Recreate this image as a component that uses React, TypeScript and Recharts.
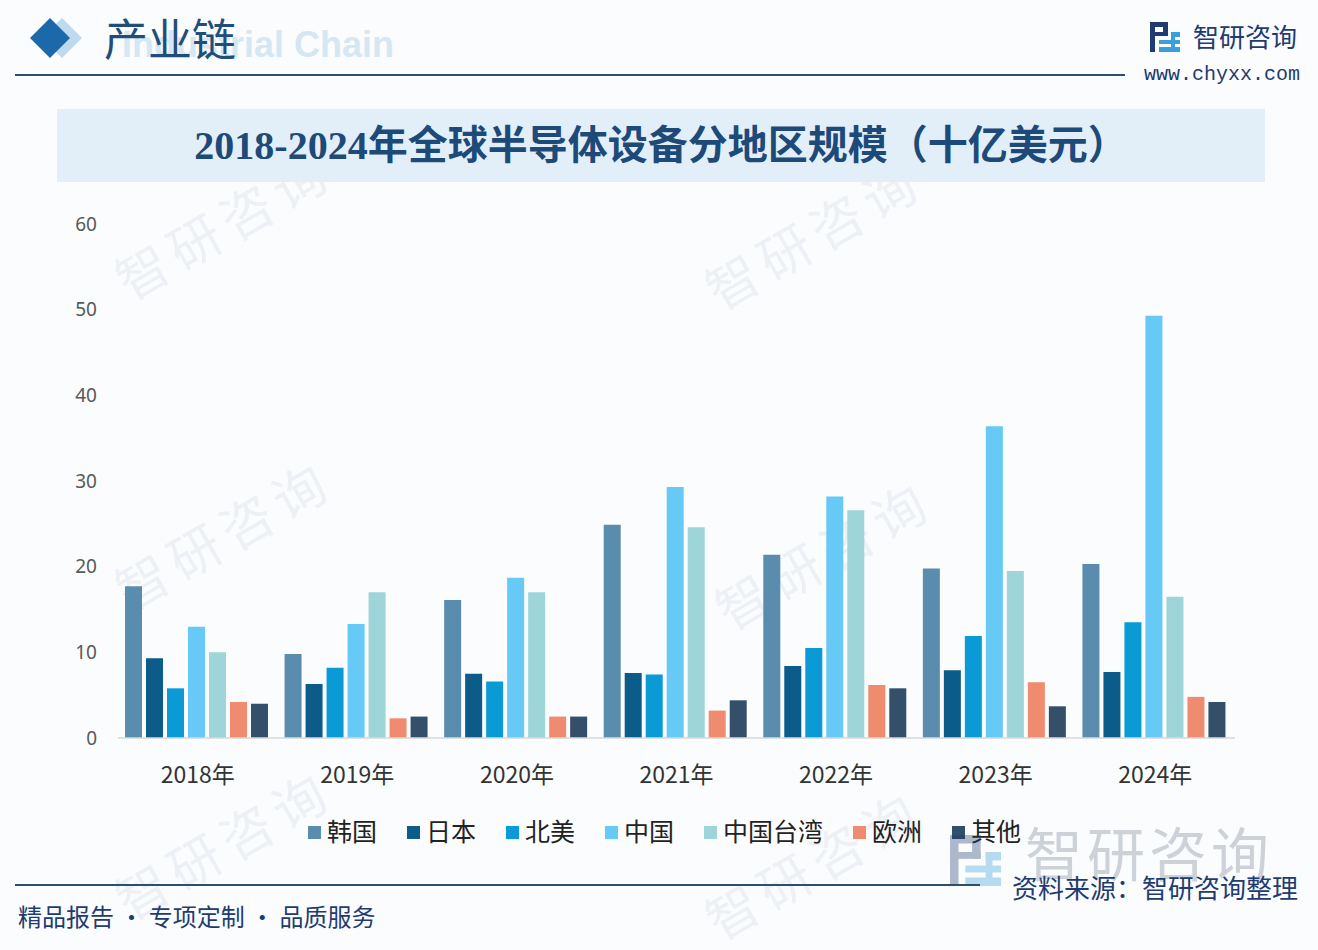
import React from 'react';
import { BarChart, Bar, XAxis, YAxis, Legend } from 'recharts';

const years = ['2018年', '2019年', '2020年', '2021年', '2022年', '2023年', '2024年'];
const korea = [17.7, 9.8, 16.1, 24.9, 21.4, 19.8, 20.3];
const japan = [9.3, 6.3, 7.5, 7.6, 8.4, 7.9, 7.7];
const northAmerica = [5.8, 8.2, 6.6, 7.4, 10.5, 11.9, 13.5];
const china = [13.0, 13.3, 18.7, 29.3, 28.2, 36.4, 49.3];
const taiwan = [10.0, 17.0, 17.0, 24.6, 26.6, 19.5, 16.5];
const europe = [4.2, 2.3, 2.5, 3.2, 6.2, 6.5, 4.8];
const others = [4.0, 2.5, 2.5, 4.4, 5.8, 3.7, 4.2];
const yTicks = [0, 10, 20, 30, 40, 50, 60];

const seriesNames = ['韩国', '日本', '北美', '中国', '中国台湾', '欧洲', '其他'];
const seriesValues = [korea, japan, northAmerica, china, taiwan, europe, others];
const seriesColors = ['#5A8CAE', '#0B5C88', '#0A9BD6', '#66C9F6', '#9DD5D9', '#EF8C6F', '#344F69'];

const data = years.map((y, i) => {
  const row: Record<string, string | number> = { year: y };
  seriesNames.forEach((n, k) => {
    row[n] = seriesValues[k][i];
  });
  return row;
});

const CJK = '"Noto Sans CJK SC", "Noto Sans", sans-serif';
const NAVY = '#1F3B70';

const LegendContent = (props: any) => {
  const payload = [...(props.payload || [])].sort(
    (a: any, b: any) => seriesNames.indexOf(a.value) - seriesNames.indexOf(b.value)
  );
  return (
    <div style={{ display: 'flex', alignItems: 'center', paddingLeft: 308, height: 30 }}>
      {payload.map((p: any) => (
        <div key={p.value} style={{ display: 'flex', alignItems: 'center', marginRight: 30 }}>
          <div style={{ width: 13, height: 13, background: p.color, marginRight: 6, marginTop: 4 }} />
          <span style={{ fontFamily: CJK, fontSize: 25, color: '#222', lineHeight: '30px' }}>{p.value}</span>
        </div>
      ))}
    </div>
  );
};

const Watermark = ({ x, y, size, rot }: { x: number; y: number; size: number; rot: number }) => (
  <div
    style={{
      position: 'absolute',
      left: x,
      top: y,
      fontFamily: CJK,
      fontSize: size,
      color: 'rgba(190,200,212,0.22)',
      transform: `rotate(${rot}deg)`,
      transformOrigin: 'left top',
      whiteSpace: 'nowrap',
      letterSpacing: 8,
    }}
  >
    智研咨询
  </div>
);

const Logo = ({ x, y, s }: { x: number; y: number; s: number }) => (
  <svg style={{ position: 'absolute', left: x, top: y }} width={30 * s} height={30 * s} viewBox="0 0 30 30">
    <rect x="0" y="0" width="18" height="5" fill="#1F3B70" />
    <rect x="0" y="0" width="5" height="30" fill="#1F3B70" />
    <rect x="13" y="0" width="5" height="14" fill="#1F3B70" />
    <rect x="0" y="10" width="18" height="4" fill="#1F3B70" />
    <rect x="21" y="10" width="9" height="5" fill="#3AA0DA" />
    <rect x="21" y="10" width="4" height="20" fill="#3AA0DA" />
    <rect x="9" y="18" width="21" height="4" fill="#3AA0DA" />
    <rect x="9" y="25" width="21" height="5" fill="#3AA0DA" />
  </svg>
);

export default function App() {
  return (
    <div
      style={{
        position: 'absolute',
        left: 0,
        top: 0,
        width: 1318,
        height: 950,
        background: '#FAFCFE',
        overflow: 'hidden',
      }}
    >
      {/* watermarks */}
      <Watermark x={100} y={250} size={52} rot={-30} />
      <Watermark x={690} y={260} size={52} rot={-30} />
      <Watermark x={100} y={560} size={52} rot={-30} />
      <Watermark x={700} y={580} size={52} rot={-30} />
      <Watermark x={100} y={870} size={52} rot={-30} />
      <Watermark x={690} y={890} size={52} rot={-30} />

      {/* header */}
      <svg style={{ position: 'absolute', left: 26, top: 14 }} width={60} height={48}>
        <polygon points="36,4 56,24 36,44 16,24" fill="#BFD9EE" />
        <polygon points="24,4 44,24 24,44 4,24" fill="#1C69AA" />
      </svg>
      <div
        style={{
          position: 'absolute',
          left: 122,
          top: 23,
          fontFamily: 'Arial, "Liberation Sans", sans-serif',
          fontWeight: 'bold',
          fontSize: 36,
          color: '#D6E7F4',
          whiteSpace: 'nowrap',
          lineHeight: '44px',
        }}
      >
        Industrial Chain
      </div>
      <div
        style={{
          position: 'absolute',
          left: 104,
          top: 7,
          fontFamily: CJK,
          fontSize: 44,
          color: '#1F4E79',
          lineHeight: '60px',
          whiteSpace: 'nowrap',
        }}
      >
        产业链
      </div>
      <div style={{ position: 'absolute', left: 15, top: 74, width: 1110, height: 2, background: '#2B4F6E' }} />
      <Logo x={1150} y={22} s={1} />
      <div
        style={{
          position: 'absolute',
          left: 1193,
          top: 18,
          fontFamily: CJK,
          fontSize: 26,
          color: NAVY,
          lineHeight: '36px',
          whiteSpace: 'nowrap',
        }}
      >
        智研咨询
      </div>
      <div
        style={{
          position: 'absolute',
          left: 1144,
          top: 63,
          fontFamily: '"Liberation Mono", "DejaVu Sans Mono", monospace',
          fontSize: 20,
          color: NAVY,
          lineHeight: '24px',
          whiteSpace: 'nowrap',
        }}
      >
        www.chyxx.com
      </div>

      {/* title box */}
      <div
        style={{
          position: 'absolute',
          left: 57,
          top: 109,
          width: 1208,
          height: 73,
          background: '#E3EFF8',
          display: 'flex',
          alignItems: 'center',
          justifyContent: 'center',
        }}
      >
        <span
          style={{
            fontFamily: '"Liberation Serif", "Noto Sans CJK SC", serif',
            fontWeight: 'bold',
            fontSize: 40,
            color: '#1D4A78',
            whiteSpace: 'nowrap',
            lineHeight: '50px',
          }}
        >
          2018-2024年全球半导体设备分地区规模（十亿美元）
        </span>
      </div>

      {/* chart */}
      <div style={{ position: 'absolute', left: 0, top: 200 }}>
        <BarChart
          width={1318}
          height={680}
          data={data}
          margin={{ top: 24, right: 83, left: 48, bottom: 112 }}
          barCategoryGap={7}
          barGap={4}
        >
          <XAxis
            dataKey="year"
            height={30}
            tickLine={false}
            axisLine={{ stroke: '#D9D9D9', strokeWidth: 1.5 }}
            tickMargin={23}
            tick={{ fontFamily: CJK, fontSize: 23, fill: '#333' }}
          />
          <YAxis
            width={70}
            domain={[0, 60]}
            ticks={yTicks}
            axisLine={false}
            tickLine={false}
            tickMargin={15}
            tick={{ fontFamily: '"Noto Sans", sans-serif', fontSize: 19, fill: '#595959' }}
          />
          <Legend
            layout="horizontal"
            verticalAlign="middle"
            content={<LegendContent />}
            wrapperStyle={{ position: 'absolute', top: 615, left: 0, width: 1318 }}
          />
          {seriesNames.map((n, k) => (
            <Bar key={n} dataKey={n} fill={seriesColors[k]} isAnimationActive={false} />
          ))}
        </BarChart>
      </div>

      {/* footer */}
      <div
        style={{
          position: 'absolute',
          left: 1025,
          top: 816,
          fontFamily: CJK,
          fontSize: 58,
          color: 'rgba(150,160,170,0.45)',
          lineHeight: '70px',
          whiteSpace: 'nowrap',
          letterSpacing: 4,
        }}
      >
        智研咨询
      </div>
      <div style={{ position: 'absolute', left: 950, top: 835, opacity: 0.35 }}>
        <Logo x={0} y={0} s={1.7} />
      </div>
      <div style={{ position: 'absolute', left: 15, top: 884, width: 965, height: 2, background: '#2B4F6E' }} />
      <div
        style={{
          position: 'absolute',
          left: 1012,
          top: 869,
          fontFamily: CJK,
          fontSize: 26,
          color: NAVY,
          lineHeight: '36px',
          whiteSpace: 'nowrap',
        }}
      >
        资料来源：智研咨询整理
      </div>
      <div
        style={{
          position: 'absolute',
          left: 18,
          top: 899,
          fontFamily: CJK,
          fontSize: 24,
          color: NAVY,
          lineHeight: '34px',
          whiteSpace: 'nowrap',
        }}
      >
        精品报告 · 专项定制 · 品质服务
      </div>
    </div>
  );
}
